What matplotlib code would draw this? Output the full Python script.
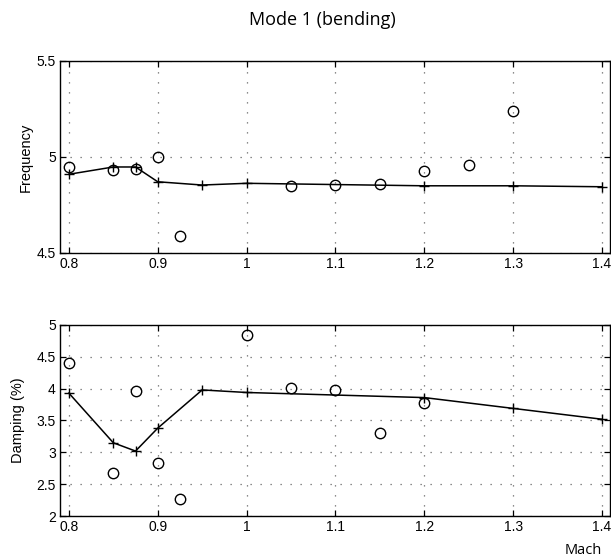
import matplotlib.pyplot as plt

# Mach numbers and results for mode 1 (bending)
mach_test = [0.8, 0.85, 0.875, 0.9, 0.925, 1.05, 1.1, 1.15, 1.2, 1.25, 1.3]
freq_test = [4.95, 4.93, 4.935, 5.0, 4.59, 4.85, 4.853, 4.86, 4.927, 4.957, 5.24]

mach_damp_test = [0.8, 0.85, 0.875, 0.9, 0.925, 1.0, 1.05, 1.1, 1.15, 1.2]
damp_test = [4.40, 2.68, 3.97, 2.84, 2.26, 4.85, 4.01, 3.98, 3.30, 3.77]

mach_calc = [0.8, 0.85, 0.875, 0.9, 0.95, 1.0, 1.2, 1.3, 1.4]
freq_calc = [4.91, 4.948, 4.948, 4.871, 4.854, 4.863, 4.85, 4.85, 4.845]
damp_calc = [3.93, 3.15, 3.02, 3.38, 3.98, 3.94, 3.86, 3.69, 3.52]

xticks = [0.8, 0.9, 1.0, 1.1, 1.2, 1.3, 1.4]
xticklabels = ['0.8', '0.9', '1', '1.1', '1.2', '1.3', '1.4']

plt.rcParams['font.family'] = ['Liberation Sans', 'DejaVu Sans']

fig = plt.figure(figsize=(6.11, 5.6), dpi=100)
ax1 = fig.add_axes([60 / 611, 1 - 253 / 560, 550 / 611, 192 / 560])
ax2 = fig.add_axes([60 / 611, 1 - 516 / 560, 550 / 611, 191 / 560])


def style_axes(ax, yticks, ylabels):
    ax.set_xlim(0.79, 1.409)
    ax.set_xticks(xticks)
    ax.set_xticklabels(xticklabels)
    ax.set_yticks(yticks)
    ax.set_yticklabels(ylabels)
    ax.tick_params(direction='in', length=4, width=0.9, top=True, right=True,
                   labelsize=10, pad=3)
    ax.grid(True, linestyle=(0, (1, 7)), linewidth=0.9, color='0.4')
    for s in ax.spines.values():
        s.set_linewidth(1.0)


ax1.plot(mach_calc, freq_calc, color='black', lw=1.1, marker='+', ms=7, mew=1.0)
ax1.plot(mach_test, freq_test, linestyle='none', marker='o', ms=7.5,
         mfc='none', mec='black', mew=1.0)
ax1.set_ylim(4.5, 5.5)
style_axes(ax1, [4.5, 5.0, 5.5], ['4.5', '5', '5.5'])
ax1.set_ylabel('Frequency', fontsize=10.5, labelpad=3)

ax2.plot(mach_calc, damp_calc, color='black', lw=1.1, marker='+', ms=7, mew=1.0)
ax2.plot(mach_damp_test, damp_test, linestyle='none', marker='o', ms=7.5,
         mfc='none', mec='black', mew=1.0)
ax2.set_ylim(2, 5)
style_axes(ax2, [2, 2.5, 3, 3.5, 4, 4.5, 5],
           ['2', '2.5', '3', '3.5', '4', '4.5', '5'])
ax2.set_ylabel('Damping (%)', fontsize=10.5, labelpad=8)

fig.text(602 / 611, 1 - 550 / 560, 'Mach', ha='right', va='center',
         fontsize=10.5, family=['Open Sans', 'DejaVu Sans'])
fig.text(322 / 611, 1 - 20 / 560, 'Mode 1 (bending)', ha='center', va='center',
         fontsize=13, family=['Open Sans', 'DejaVu Sans'])

fig.savefig('out.png', dpi=100)
